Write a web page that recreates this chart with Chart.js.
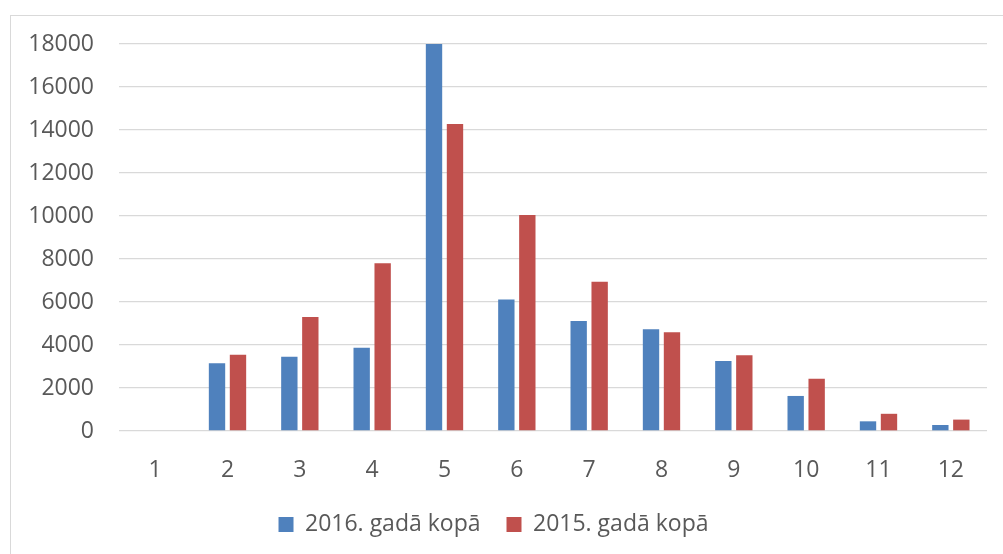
<!DOCTYPE html>
<html>
<head>
<meta charset="utf-8">
<script src="https://cdn.jsdelivr.net/npm/chart.js@4"></script>
<style>
  html, body { margin: 0; padding: 0; background: #fff; }
  #wrap { position: relative; width: 1003px; height: 554px; overflow: hidden; }
  #frame { position: absolute; left: 10px; top: 15px; width: 1010px; height: 560px; border: 1px solid #d9d9d9; }
  #stats-graph { position: absolute; left: 0; top: 0; }
</style>
</head>
<body>
<div id="wrap">
  <div id="frame"></div>
  <canvas id="stats-graph" width="1003" height="554"></canvas>
</div>
<script>
// Daten
var categories = ['1', '2', '3', '4', '5', '6', '7', '8', '9', '10', '11', '12'];
var series2016 = [0, 3150, 3450, 3870, 18000, 6120, 5120, 4730, 3260, 1630, 450, 280];
var series2015 = [0, 3550, 5300, 7800, 14280, 10050, 6940, 4590, 3520, 2430, 800, 530];
var seriesNames = ['2016. gadā kopā', '2015. gadā kopā'];
var yTicks = [0, 2000, 4000, 6000, 8000, 10000, 12000, 14000, 16000, 18000];

var textColor = '#595959';
var fontFamily = "'Open Sans', 'Noto Sans', sans-serif";

function generateGraph() {
    var ctx = document.getElementById('stats-graph').getContext('2d');
    new Chart(ctx, {
        type: 'bar',
        data: {
            labels: categories,
            datasets: [
                { label: seriesNames[0], data: series2016, backgroundColor: '#4f81bd' },
                { label: seriesNames[1], data: series2015, backgroundColor: '#c0504d' }
            ]
        },
        options: {
            responsive: false,
            animation: false,
            categoryPercentage: 0.58,
            barPercentage: 0.78,
            layout: { padding: { top: 44, right: 16, left: 0, bottom: 8 } },
            plugins: {
                tooltip: { enabled: false },
                legend: {
                    position: 'bottom',
                    labels: {
                        boxWidth: 15,
                        boxHeight: 15,
                        padding: 26,
                        color: textColor,
                        font: { family: fontFamily, size: 23 }
                    }
                }
            },
            scales: {
                x: {
                    grid: { display: false },
                    border: { display: false },
                    ticks: {
                        color: textColor,
                        padding: 18,
                        font: { family: fontFamily, size: 23 }
                    },
                    afterFit: function (scale) { scale.height = 56; }
                },
                y: {
                    min: 0,
                    max: 18000,
                    afterBuildTicks: function (scale) {
                        scale.ticks = yTicks.map(function (v) { return { value: v }; });
                    },
                    grid: { color: '#d9d9d9', lineWidth: 1.3, drawTicks: false },
                    border: { display: false },
                    ticks: {
                        color: textColor,
                        padding: 25,
                        font: { family: fontFamily, size: 23 },
                        callback: function (value) { return String(value); }
                    },
                    afterFit: function (scale) { scale.width = 119; }
                }
            }
        }
    });
}

generateGraph();
</script>
</body>
</html>
